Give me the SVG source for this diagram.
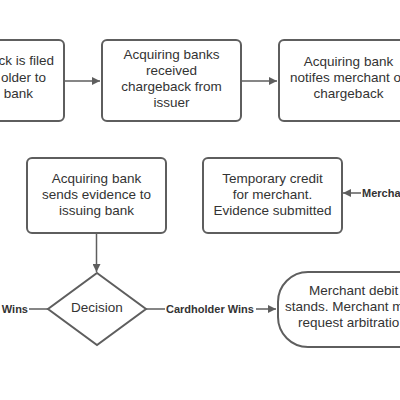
<svg xmlns="http://www.w3.org/2000/svg" width="400" height="400" viewBox="0 0 400 400">
<defs>
<marker id="ah" viewBox="0 0 10 10" refX="10" refY="5" markerWidth="8" markerHeight="8" markerUnits="userSpaceOnUse" orient="auto">
<path d="M0,0 L10,5 L0,10 z" fill="#5e5e5e"/>
</marker>
</defs>
<style>
.box{fill:#ffffff;stroke:#5e5e5e;stroke-width:2}
.t{font-family:"Liberation Sans",Arial,sans-serif;font-size:13.5px;fill:#333333;text-anchor:middle}
.lbl{font-family:"Liberation Sans",Arial,sans-serif;font-size:11px;font-weight:bold;fill:#333333}
.c{fill:none;stroke:#5e5e5e;stroke-width:1.5}
</style>
<rect width="400" height="400" fill="#ffffff"/>
<g id="connectors">
<line class="c" x1="64" y1="81" x2="100" y2="81" marker-end="url(#ah)"/>
<line class="c" x1="241" y1="81" x2="277" y2="81" marker-end="url(#ah)"/>
<line class="c" x1="96.5" y1="233" x2="96.5" y2="272" marker-end="url(#ah)"/>
<line class="c" x1="29" y1="309" x2="48" y2="309"/>
<line class="c" x1="146" y1="309" x2="165" y2="309"/>
<line class="c" x1="256" y1="309" x2="276" y2="309" marker-end="url(#ah)"/>
<line class="c" x1="361" y1="193" x2="343" y2="193" marker-end="url(#ah)"/>
<text class="lbl" x="28" y="313" text-anchor="end">Wins</text>
<text class="lbl" x="166" y="313">Cardholder Wins</text>
<text class="lbl" x="362" y="197">Mercha</text>
</g>
<g id="n1">
<rect class="box" x="-75" y="40" width="139" height="81" rx="5"/>
<text class="t" x="54" y="65" style="text-anchor:end">ck is filed</text>
<text class="t" x="46" y="82" style="text-anchor:end">older to</text>
<text class="t" x="33" y="98" style="text-anchor:end">bank</text>
</g>
<g id="n2">
<rect class="box" x="102" y="40" width="139" height="81" rx="5"/>
<text class="t" x="171.5" y="59">Acquiring banks</text>
<text class="t" x="171.5" y="75">received</text>
<text class="t" x="171.5" y="91">chargeback from</text>
<text class="t" x="171.5" y="107">issuer</text>
</g>
<g id="n3">
<rect class="box" x="279" y="40" width="139" height="81" rx="5"/>
<text class="t" x="348.5" y="66">Acquiring bank</text>
<text class="t" x="290" y="82" style="text-anchor:start">notifes merchant o</text>
<text class="t" x="348.5" y="98">chargeback</text>
</g>
<g id="n4">
<rect class="box" x="27" y="158" width="139" height="75" rx="5"/>
<text class="t" x="96.5" y="183">Acquiring bank</text>
<text class="t" x="96.5" y="199">sends evidence to</text>
<text class="t" x="96.5" y="215">issuing bank</text>
</g>
<g id="n5">
<rect class="box" x="203" y="158" width="139" height="75" rx="5"/>
<text class="t" x="272.5" y="183">Temporary credit</text>
<text class="t" x="272.5" y="199">for merchant.</text>
<text class="t" x="272.5" y="215">Evidence submitted</text>
</g>
<g id="n6">
<polygon class="box" points="97,273 146,309 97,345 48,309"/>
<text class="t" x="97" y="312">Decision</text>
</g>
<g id="n7">
<rect class="box" x="278" y="272" width="152" height="75" rx="30"/>
<text class="t" x="309" y="295" style="text-anchor:start">Merchant debit</text>
<text class="t" x="285" y="311" style="text-anchor:start">stands. Merchant m</text>
<text class="t" x="298" y="327" style="text-anchor:start">request arbitratio</text>
</g>
</svg>
